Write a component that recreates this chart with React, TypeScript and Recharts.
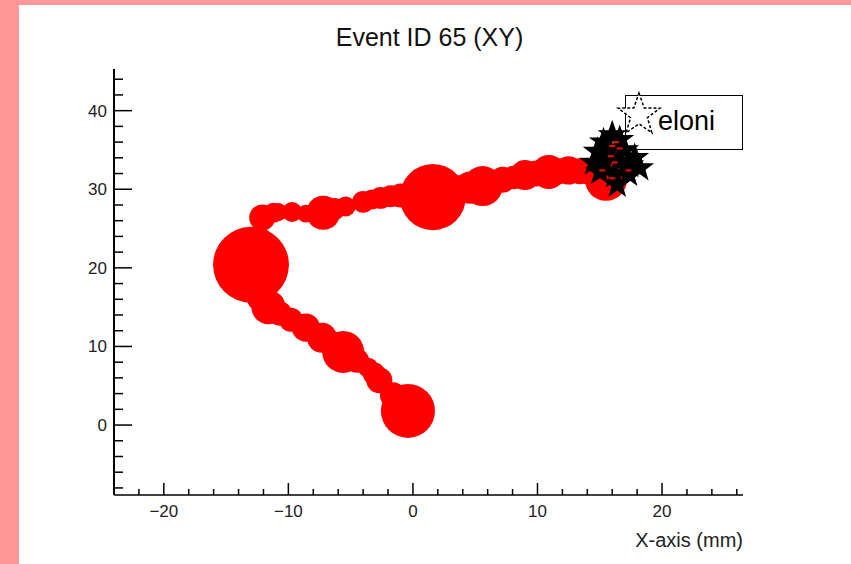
import { Legend, Scatter, ScatterChart, XAxis, YAxis, ZAxis } from 'recharts'

// energy-weighted hit positions along the track (mm)
const trackX = [-0.4, -1.6, -2.7, -3.1, -3.6, -4.5, -5.6, -7.3, -8.6, -9.8, -10.7, -11.6, -12.2, -12.6, -13.0, -12.4, -12.1, -11.2, -10.8, -9.7, -8.6, -7.2, -6.3, -5.4, -4.0, -3.3, -2.6, -1.8, -1.0, 1.6, 3.5, 4.6, 5.6, 6.3, 7.2, 8.1, 9.0, 9.9, 10.9, 11.7, 12.5, 13.4, 14.2, 15.5, 16.0]
const trackY = [1.8, 3.8, 5.7, 6.5, 7.3, 8.2, 9.3, 11.1, 12.4, 13.4, 14.2, 15.0, 16.2, 17.2, 20.4, 23.8, 26.4, 27.0, 27.1, 27.1, 26.9, 27.0, 27.5, 27.8, 28.4, 28.7, 28.9, 29.1, 29.2, 29.0, 30.0, 30.2, 30.4, 30.8, 31.2, 31.5, 31.8, 32.0, 32.2, 32.3, 32.4, 32.3, 32.2, 31.2, 33.1]
const trackE = [7.3, 1.7, 1.7, 1.3, 1.0, 1.5, 4.4, 2.25, 2.0, 1.44, 1.5, 2.9, 2.0, 2.25, 14.4, 1.44, 1.7, 1.0, 0.8, 1.0, 0.8, 2.9, 1.2, 1.0, 1.2, 1.0, 1.2, 1.2, 1.44, 10.9, 2.0, 2.6, 4.0, 1.4, 1.7, 1.4, 2.25, 1.7, 2.9, 1.7, 2.0, 1.7, 1.7, 4.4, 2.25]

// reconstructed vertices (stars)
const starX = [16.0, 15.3, 16.6, 14.8, 15.8, 17.0, 17.8, 14.5, 15.4, 16.5, 17.4, 18.2, 15.0, 16.2, 17.3, 16.4]
const starY = [36.9, 36.0, 36.3, 34.8, 35.0, 35.0, 34.0, 33.4, 33.4, 33.5, 33.1, 32.7, 32.2, 31.8, 32.0, 30.6]

// small hits drawn over the vertices
const hitX = [16.3, 16.0, 16.6, 15.9, 16.2, 15.2, 17.3, 16.0]
const hitY = [36.0, 35.5, 35.2, 34.2, 33.4, 32.4, 32.4, 31.4]

const xTicks = [-22, -20, -18, -16, -14, -12, -10, -8, -6, -4, -2, 0, 2, 4, 6, 8, 10, 12, 14, 16, 18, 20, 22, 24, 26]
const yTicks = [-8, -6, -4, -2, 0, 2, 4, 6, 8, 10, 12, 14, 16, 18, 20, 22, 24, 26, 28, 30, 32, 34, 36, 38, 40, 42, 44]

const track = trackX.map((x, i) => ({ x, y: trackY[i], e: trackE[i] }))
const stars = starX.map((x, i) => ({ x, y: starY[i] }))
const hits = hitX.map((x, i) => ({ x, y: hitY[i] }))

const starPath = (cx, cy, R) => {
	const r = R * 0.4
	let d = ''
	for (let k = 0; k < 10; k++) {
		const rad = k % 2 === 0 ? R : r
		const a = -Math.PI / 2 + (k * Math.PI) / 5
		d += (k === 0 ? 'M' : 'L') + (cx + rad * Math.cos(a)).toFixed(1) + ',' + (cy + rad * Math.sin(a)).toFixed(1)
	}
	return d + 'Z'
}

const fmt = (v) => (v < 0 ? '\u2212' + Math.abs(v) : String(v))

const XTick = ({ x, y, payload }) => {
	const major = payload.value % 10 === 0
	return <g>
		<line x1={x} x2={x} y1={y} y2={y - (major ? 12 : 6)} stroke='#000' strokeWidth={1.5} />
		{major && <text x={x} y={y + 22} textAnchor='middle' fontSize={17} fill='#222'>{fmt(payload.value)}</text>}
	</g>
}

const YTick = ({ x, y, payload }) => {
	const major = payload.value % 10 === 0
	return <g>
		<line x1={x} x2={x + (major ? 18 : 9)} y1={y} y2={y} stroke='#000' strokeWidth={1.5} />
		{major && <text x={x - 7} y={y + 6} textAnchor='end' fontSize={17} fill='#222'>{fmt(payload.value)}</text>}
	</g>
}

const StarShape = ({ cx, cy }) => <path d={starPath(cx, cy, 13)} fill='#000' stroke='#000' strokeWidth={1.5} />

const HitShape = ({ cx, cy }) => <rect x={cx - 3} y={cy - 1} width={6} height={2} fill='#ff0000' />

const LegendBox = () => (
	<div style={{ position: 'relative', width: 118, height: 55, border: '1.5px solid #000', boxSizing: 'border-box' }}>
		<svg width={50} height={50} style={{ position: 'absolute', left: -12, top: -7, overflow: 'visible' }}>
			<path d={starPath(25, 26, 22)} fill='#fff' stroke='#000' strokeWidth={1.5} strokeDasharray='3 2' />
		</svg>
		<span style={{ position: 'absolute', left: 32, top: 10, fontSize: 27, lineHeight: '30px', color: '#000' }}>eloni</span>
	</div>
)

const XLabel = ({ viewBox }) => (
	<text x={viewBox.x + viewBox.width} y={viewBox.y + 52} textAnchor='end' fontSize={20} fill='#222'>X-axis (mm)</text>
)

export default function App() {
	return (
		<div style={{ position: 'absolute', left: 0, top: 0, width: 851, height: 564, background: '#ff9999', fontFamily: '"Liberation Sans", Arial, sans-serif' }}>
			<div style={{ position: 'absolute', left: 19, top: 5, right: 0, bottom: 0, background: '#fff' }} />
			<div style={{ position: 'absolute', left: 0, right: 0, top: 23, textAlign: 'center', paddingLeft: 8, fontSize: 25, color: '#111' }}>Event ID 65 (XY)</div>
			<div style={{ position: 'absolute', left: 0, top: 0 }}>
				<ScatterChart width={851} height={564} margin={{ top: 69, right: 108, bottom: 9, left: 54 }}>
					<XAxis type='number' dataKey='x' domain={[-24, 26.5]} ticks={xTicks} interval={0} allowDataOverflow
								 tickLine={false} tickSize={0} tickMargin={0} tick={<XTick />} height={60}
								 axisLine={{ stroke: '#000', strokeWidth: 1.5 }} label={<XLabel />} />
					<XAxis xAxisId='top' orientation='top' type='number' domain={[-24, 26.5]} tick={false} tickLine={false} height={0}
								 axisLine={{ stroke: '#000', strokeWidth: 1.5 }} />
					<YAxis type='number' dataKey='y' domain={[-8.9, 45.3]} ticks={yTicks} interval={0} allowDataOverflow
								 tickLine={false} tickSize={0} tickMargin={0} tick={<YTick />} width={60}
								 axisLine={{ stroke: '#000', strokeWidth: 2 }} />
					<YAxis yAxisId='right' orientation='right' type='number' domain={[-8.9, 45.3]} tick={false} tickLine={false} width={0}
								 axisLine={{ stroke: '#000', strokeWidth: 1.5 }} />
					<ZAxis type='number' dataKey='e' domain={[0, 20]} range={[0, 2000 * Math.PI]} />
					<Scatter data={track} fill='#ff0000' shape='circle' isAnimationActive={false} />
					<Scatter data={stars} shape={<StarShape />} isAnimationActive={false} />
					<Scatter data={hits} shape={<HitShape />} isAnimationActive={false} />
					<Legend layout='vertical' align='center' verticalAlign='middle' content={<LegendBox />}
									wrapperStyle={{ position: 'absolute', left: 625, top: 95, width: 118, height: 55 }} />
				</ScatterChart>
			</div>
		</div>
	)
}
